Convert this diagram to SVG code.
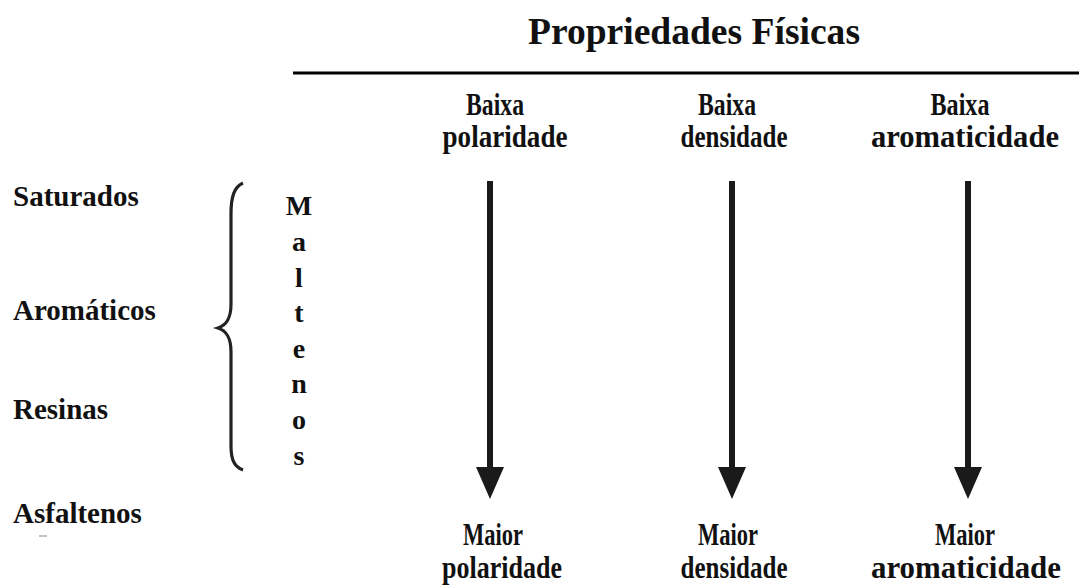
<svg xmlns="http://www.w3.org/2000/svg" width="1079" height="585" viewBox="0 0 1079 585">
  <style>
    text { font-family: "Liberation Serif", "Times New Roman", serif; font-weight: bold; fill: #111; }
    .left { font-size: 29px; }
    .col { font-size: 31px; text-anchor: middle; }
    .m { font-size: 28px; text-anchor: middle; }
    .title { font-size: 37px; }
    .shaft { stroke: #1a1a1a; stroke-width: 6; fill: none; }
  </style>
  <defs>
    <marker id="ah" markerUnits="userSpaceOnUse" markerWidth="28" markerHeight="32" refX="14" refY="0" orient="0" overflow="visible">
      <path d="M0,0 L28,0 L14,32 Z" fill="#1a1a1a"/>
    </marker>
  </defs>
  <rect width="1079" height="585" fill="#fff"/>

  <g id="title">
    <text class="title" x="528" y="44" textLength="332" lengthAdjust="spacingAndGlyphs">Propriedades Físicas</text>
    <line x1="293" y1="73" x2="1079" y2="73" stroke="#000" stroke-width="3"/>
  </g>

  <g id="fractions">
    <text class="left" x="13" y="206">Saturados</text>
    <text class="left" x="13" y="320">Aromáticos</text>
    <text class="left" x="13" y="419">Resinas</text>
    <text class="left" x="13" y="523">Asfaltenos</text>
    <line x1="39" y1="536" x2="47" y2="536" stroke="#999" stroke-width="1.2"/>
  </g>

  <g id="maltenos">
    <path d="M243,183 C234,187 231,197 231,214 L231,304 C231,318 227,325 218,328 C227,331 231,338 231,352 L231,446 C231,461 235,467 243,470" fill="none" stroke="#222" stroke-width="3.2"/>
    <text class="m" x="299" y="215">M</text>
    <text class="m" x="299" y="251">a</text>
    <text class="m" x="299" y="287">l</text>
    <text class="m" x="299" y="322">t</text>
    <text class="m" x="299" y="358">e</text>
    <text class="m" x="299" y="393">n</text>
    <text class="m" x="299" y="429">o</text>
    <text class="m" x="299" y="465">s</text>
  </g>

  <g id="col-polaridade">
    <text class="col" x="495" y="115" textLength="58" lengthAdjust="spacingAndGlyphs">Baixa</text>
    <text class="col" x="505" y="147" textLength="125" lengthAdjust="spacingAndGlyphs">polaridade</text>
    <text class="col" x="493" y="545" textLength="60" lengthAdjust="spacingAndGlyphs">Maior</text>
    <text class="col" x="502" y="578" textLength="120" lengthAdjust="spacingAndGlyphs">polaridade</text>
  </g>
  <g id="col-densidade">
    <text class="col" x="727" y="115" textLength="58" lengthAdjust="spacingAndGlyphs">Baixa</text>
    <text class="col" x="734" y="147" textLength="107" lengthAdjust="spacingAndGlyphs">densidade</text>
    <text class="col" x="728" y="545" textLength="60" lengthAdjust="spacingAndGlyphs">Maior</text>
    <text class="col" x="734" y="578" textLength="107" lengthAdjust="spacingAndGlyphs">densidade</text>
  </g>
  <g id="col-aromaticidade">
    <text class="col" x="960" y="115" textLength="59" lengthAdjust="spacingAndGlyphs">Baixa</text>
    <text class="col" x="965" y="147" textLength="188" lengthAdjust="spacingAndGlyphs">aromaticidade</text>
    <text class="col" x="965" y="545" textLength="60" lengthAdjust="spacingAndGlyphs">Maior</text>
    <text class="col" x="966" y="578" textLength="190" lengthAdjust="spacingAndGlyphs">aromaticidade</text>
  </g>

  <g id="connectors">
    <line class="shaft" x1="490" y1="181" x2="490" y2="467" marker-end="url(#ah)"/>
    <line class="shaft" x1="732" y1="181" x2="732" y2="467" marker-end="url(#ah)"/>
    <line class="shaft" x1="968" y1="181" x2="968" y2="467" marker-end="url(#ah)"/>
  </g>
</svg>
